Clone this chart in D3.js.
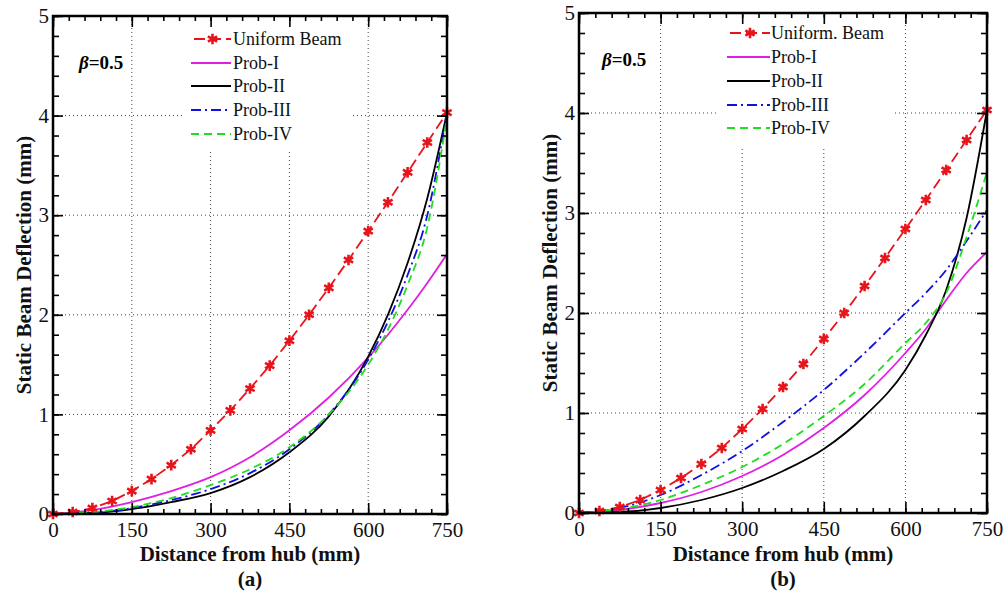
<!DOCTYPE html>
<html>
<head>
<meta charset="utf-8">
<script src="https://cdn.jsdelivr.net/npm/d3@7"></script>
<style>
    body { margin: 0; background: #fff; }
    svg { display: block; font-family: "Liberation Serif", "Times New Roman", serif; }
    .grid line { stroke: #444; stroke-width: 1; stroke-dasharray: 1,3; }
    .tick text { font-family: "Liberation Serif", "Times New Roman", serif; font-size: 21px; fill: #111; }
    .tick line { stroke: #000; stroke-width: 1.6; }
    .axisTitle { font-size: 21px; font-weight: bold; fill: #111; }
    .legendText { font-size: 18px; fill: #111; }
</style>
</head>
<body>
<script>
//tick labels
var distTicks = [0, 150, 300, 450, 600, 750];
var defTicks = [0, 1, 2, 3, 4, 5];

//uniform beam, marker every 37.5 mm
var uniformX = [0, 37.5, 75, 112.5, 150, 187.5, 225, 262.5, 300, 337.5, 375,
                412.5, 450, 487.5, 525, 562.5, 600, 637.5, 675, 712.5, 750];
var uniformY = [0, 0.02, 0.06, 0.13, 0.23, 0.35, 0.49, 0.65, 0.84, 1.04, 1.26,
                1.49, 1.74, 2.00, 2.27, 2.55, 2.84, 3.13, 3.43, 3.73, 4.03];

//x positions for the tapered beam curves
var probX = [0, 75, 150, 225, 300, 375, 450, 525, 600, 637.5, 675, 712.5, 750];

//panel (a)
var probI_a   = [0, 0.04, 0.12, 0.23, 0.37, 0.57, 0.84, 1.17, 1.57, 1.80, 2.05, 2.32, 2.61];
var probII_a  = [0, 0.01, 0.05, 0.12, 0.21, 0.37, 0.62, 0.98, 1.58, 2.00, 2.52, 3.17, 4.03];
var probIII_a = [0, 0.01, 0.06, 0.14, 0.25, 0.41, 0.65, 1.00, 1.55, 1.93, 2.40, 3.00, 4.03];
var probIV_a  = [0, 0.02, 0.07, 0.16, 0.29, 0.45, 0.67, 1.00, 1.50, 1.85, 2.30, 2.88, 3.98];

//panel (b)
var probI_b   = [0, 0.03, 0.10, 0.21, 0.37, 0.58, 0.85, 1.18, 1.60, 1.84, 2.13, 2.40, 2.61];
var probII_b  = [0, 0.01, 0.05, 0.13, 0.25, 0.42, 0.64, 0.97, 1.43, 1.78, 2.23, 2.95, 4.03];
var probIII_b = [0, 0.05, 0.18, 0.38, 0.62, 0.91, 1.23, 1.60, 2.00, 2.20, 2.43, 2.72, 3.03];
var probIV_b  = [0, 0.04, 0.13, 0.28, 0.46, 0.69, 0.97, 1.29, 1.70, 1.90, 2.20, 2.76, 3.41];

var legendA = ["Uniform Beam", "Prob-I", "Prob-II", "Prob-III", "Prob-IV"];
var legendB = ["Uniform. Beam", "Prob-I", "Prob-II", "Prob-III", "Prob-IV"];

(function(){
    //line styles: uniform, I, II, III, IV
    var colors = ["#e8141c", "#e020e0", "#000000", "#1010e0", "#20dd20"];
    var dashes = ["11,5", null, null, "10,4,2,4", "8,5"];

    var svg = d3.select("body")
        .append("svg")
        .attr("width", 1008)
        .attr("height", 593);

    drawPanel({
        left: 53, right: 447, top: 16, bottom: 514,
        series: [probI_a, probII_a, probIII_a, probIV_a],
        legend: legendA, label: "(a)",
        legBox: [182, 350, 152],
        legLine: [191, 231], legText: 233, legRows: [39, 63, 86, 110, 134],
        beta: [79, 69]
    });

    drawPanel({
        left: 579, right: 987, top: 13, bottom: 513,
        series: [probI_b, probII_b, probIII_b, probIV_b],
        legend: legendB, label: "(b)",
        legBox: [718, 893, 146],
        legLine: [727, 770], legText: 771, legRows: [33, 57, 81, 105, 128],
        beta: [602, 66]
    });

    function drawPanel(cfg){
        var x = d3.scaleLinear().domain([0, 750]).range([cfg.left, cfg.right]);
        var y = d3.scaleLinear().domain([0, 5]).range([cfg.bottom, cfg.top]);
        var g = svg.append("g");

        //dotted grid at the major ticks
        var grid = g.append("g").attr("class", "grid");
        grid.selectAll(".vg")
            .data(distTicks.slice(1, -1))
            .enter()
            .append("line")
            .attr("x1", function(d){ return x(d); })
            .attr("x2", function(d){ return x(d); })
            .attr("y1", cfg.top)
            .attr("y2", cfg.bottom);
        grid.selectAll(".hg")
            .data(defTicks.slice(1, -1))
            .enter()
            .append("line")
            .attr("x1", cfg.left)
            .attr("x2", cfg.right)
            .attr("y1", function(d){ return y(d); })
            .attr("y2", function(d){ return y(d); });

        //white legend background hides the grid
        g.append("rect")
            .attr("x", cfg.legBox[0])
            .attr("y", cfg.top + 1)
            .attr("width", cfg.legBox[1] - cfg.legBox[0])
            .attr("height", cfg.legBox[2] - cfg.top - 1)
            .attr("fill", "#fff");

        //tapered beam curves
        var line = d3.line()
            .x(function(d){ return x(d[0]); })
            .y(function(d){ return y(d[1]); })
            .curve(d3.curveMonotoneX);

        cfg.series.forEach(function(s, i){
            g.append("path")
                .datum(probX.map(function(v, j){ return [v, s[j]]; }))
                .attr("d", line)
                .attr("fill", "none")
                .attr("stroke", colors[i + 1])
                .attr("stroke-width", 1.8)
                .attr("stroke-dasharray", dashes[i + 1]);
        });

        //uniform beam with star markers
        var uni = uniformX.map(function(v, j){ return [v, uniformY[j]]; });
        g.append("path")
            .datum(uni)
            .attr("d", d3.line()
                .x(function(d){ return x(d[0]); })
                .y(function(d){ return y(d[1]); }))
            .attr("fill", "none")
            .attr("stroke", colors[0])
            .attr("stroke-width", 1.8)
            .attr("stroke-dasharray", dashes[0]);

        var star = d3.symbol().type(d3.symbolAsterisk).size(80);
        g.selectAll(".mk")
            .data(uni)
            .enter()
            .append("path")
            .attr("d", star)
            .attr("transform", function(d){ return "translate(" + x(d[0]) + "," + y(d[1]) + ")"; })
            .attr("fill", colors[0])
            .attr("stroke", colors[0])
            .attr("stroke-width", 2.6);

        //legend
        cfg.legend.forEach(function(name, i){
            var ry = cfg.legRows[i];
            var x0 = i == 0 ? cfg.legLine[0] + 3 : cfg.legLine[0];
            g.append("line")
                .attr("x1", x0)
                .attr("x2", cfg.legLine[1])
                .attr("y1", ry)
                .attr("y2", ry)
                .attr("stroke", colors[i])
                .attr("stroke-width", 1.8)
                .attr("stroke-dasharray", dashes[i]);
            if (i == 0){
                g.append("path")
                    .attr("d", star)
                    .attr("transform", "translate(" + (x0 + cfg.legLine[1]) / 2 + "," + ry + ")")
                    .attr("fill", colors[0])
                    .attr("stroke", colors[0])
                    .attr("stroke-width", 2.6);
            }
            g.append("text")
                .attr("class", "legendText")
                .attr("x", cfg.legText)
                .attr("y", ry + 6)
                .text(name);
        });

        //beta label
        var beta = g.append("text")
            .attr("x", cfg.beta[0])
            .attr("y", cfg.beta[1])
            .attr("font-size", "19px")
            .attr("font-weight", "bold");
        beta.append("tspan").attr("font-style", "italic").text("\u03b2");
        beta.append("tspan").text("=0.5");

        //axes, ticks pointing inward
        var minorX = d3.range(0, 751, 30);
        var minorY = d3.range(0, 5.01, 0.2);

        g.append("g")
            .attr("transform", "translate(0," + cfg.bottom + ")")
            .call(d3.axisBottom(x).tickValues(distTicks).tickSize(-11).tickPadding(8));
        g.append("g")
            .attr("transform", "translate(0," + cfg.bottom + ")")
            .call(d3.axisBottom(x).tickValues(minorX).tickSize(-5).tickFormat(""));
        g.append("g")
            .attr("transform", "translate(0," + cfg.top + ")")
            .call(d3.axisTop(x).tickValues(distTicks).tickSize(-11).tickFormat(""));
        g.append("g")
            .attr("transform", "translate(0," + cfg.top + ")")
            .call(d3.axisTop(x).tickValues(minorX).tickSize(-5).tickFormat(""));

        g.append("g")
            .attr("transform", "translate(" + cfg.left + ",0)")
            .call(d3.axisLeft(y).tickValues(defTicks).tickSize(-10).tickPadding(4).tickFormat(d3.format("d")));
        g.append("g")
            .attr("transform", "translate(" + cfg.left + ",0)")
            .call(d3.axisLeft(y).tickValues(minorY).tickSize(-6).tickFormat(""));
        g.append("g")
            .attr("transform", "translate(" + cfg.right + ",0)")
            .call(d3.axisRight(y).tickValues(defTicks).tickSize(-10).tickFormat(""));
        g.append("g")
            .attr("transform", "translate(" + cfg.right + ",0)")
            .call(d3.axisRight(y).tickValues(minorY).tickSize(-6).tickFormat(""));

        g.selectAll(".domain").remove();

        //plot frame
        g.append("rect")
            .attr("x", cfg.left)
            .attr("y", cfg.top)
            .attr("width", cfg.right - cfg.left)
            .attr("height", cfg.bottom - cfg.top)
            .attr("fill", "none")
            .attr("stroke", "#000")
            .attr("stroke-width", 2.5);

        //axis titles
        var cx = (cfg.left + cfg.right) / 2;
        g.append("text")
            .attr("class", "axisTitle")
            .attr("x", cx)
            .attr("y", 561)
            .attr("text-anchor", "middle")
            .text("Distance from hub (mm)");
        g.append("text")
            .attr("class", "axisTitle")
            .attr("x", cx)
            .attr("y", 586)
            .attr("text-anchor", "middle")
            .text(cfg.label);
        g.append("text")
            .attr("class", "axisTitle")
            .attr("transform", "translate(" + (cfg.left - 22) + "," + (cfg.top + cfg.bottom) / 2 + ") rotate(-90)")
            .attr("text-anchor", "middle")
            .text("Static Beam Deflection (mm)");
    };
})();
</script>
</body>
</html>
